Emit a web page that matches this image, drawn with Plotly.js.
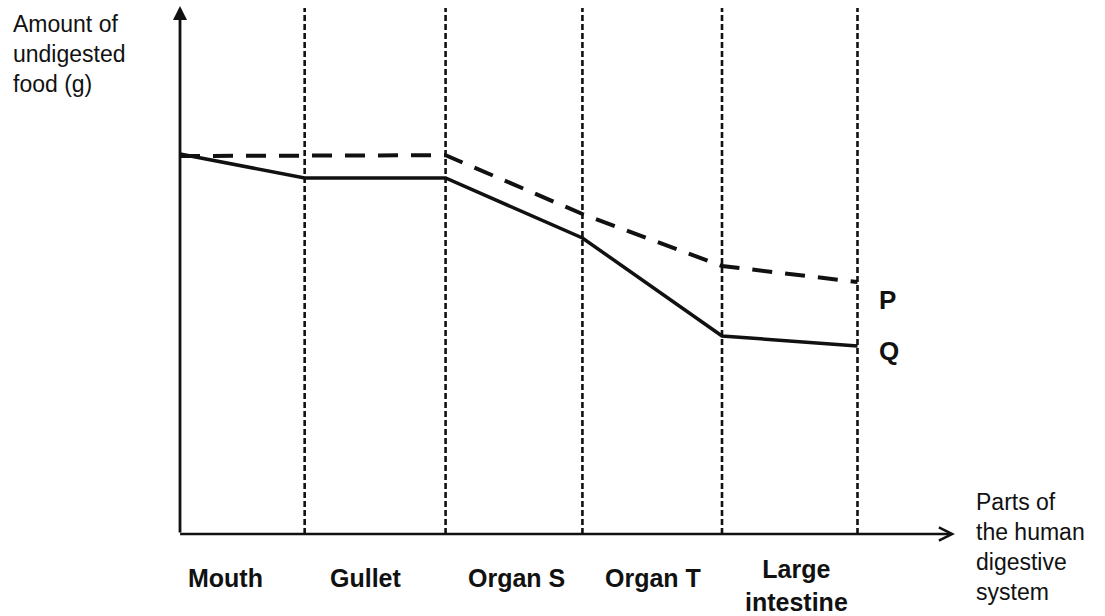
<!DOCTYPE html>
<html>
<head>
<meta charset="utf-8">
<script src="https://cdn.plot.ly/plotly-3.0.1.min.js"></script>
<style>html,body{margin:0;padding:0;background:#fff;}#chart{width:1105px;height:616px;}</style>
</head>
<body>
<div id="chart"></div>
<script>
// ---- data ----
const parts = ['Mouth', 'Gullet', 'Organ S', 'Organ T', 'Large<br>intestine'];
const boundaries = [0, 0.92, 1.96, 2.97, 4.0, 5.0];   // section edges along the x axis
const foodP = [9.45, 9.45, 9.47, 8.0, 6.7, 6.3];       // undigested food, curve P (g)
const foodQ = [9.5, 8.9, 8.9, 7.4, 4.95, 4.7];         // undigested food, curve Q (g)
const seriesNames = ['P', 'Q'];
const yTitleLines = ['Amount of', 'undigested', 'food (g)'];
const xTitleLines = ['Parts of', 'the human', 'digestive', 'system'];

// ---- layout helpers (pixel -> data) ----
const W = 1105, H = 616;
const X_UNIT = 135.5, X0PX = 180, Y_UNIT = 40, Y0PX = 534;
const dx = px => (px - X0PX) / X_UNIT;
const dy = px => (Y0PX - px) / Y_UNIT;
const FONT = 'Liberation Sans, Arial, sans-serif';
const INK = '#111';

const traces = [
  {x: boundaries, y: foodP, name: seriesNames[0], mode: 'lines', type: 'scatter',
   line: {color: INK, width: 4, dash: '20px,13px'}, hoverinfo: 'skip'},
  {x: boundaries, y: foodQ, name: seriesNames[1], mode: 'lines', type: 'scatter',
   line: {color: INK, width: 3.5}, hoverinfo: 'skip'}
];

const shapes = boundaries.slice(1).map(b => ({
  type: 'line', xref: 'x', yref: 'y', x0: b, x1: b, y0: 0, y1: dy(8),
  line: {color: INK, width: 2.6, dash: '6px,3px'}
}));

const annotations = [];
// axes with arrows
annotations.push({x: 0, y: dy(6), ax: 0, ay: 0, xref: 'x', yref: 'y', axref: 'x', ayref: 'y',
  text: '', showarrow: true, arrowhead: 2, arrowsize: 1.0, arrowwidth: 2.8, arrowcolor: INK, standoff: 0});
annotations.push({x: dx(955), y: 0, ax: dx(178.6), ay: 0, xref: 'x', yref: 'y', axref: 'x', ayref: 'y',
  text: '', showarrow: true, arrowhead: 5, arrowsize: 1.0, arrowwidth: 2.6, arrowcolor: INK, standoff: 0});

// category labels
const labelShift = [-17, -9, 2, 1, 7];
parts.forEach((p, i) => {
  const mid = (boundaries[i] + boundaries[i + 1]) / 2;
  const multi = p.indexOf('<br>') >= 0;
  annotations.push({x: mid, y: dy(multi ? 585 : 577.5), xref: 'x', yref: 'y', text: '<b>' + p + '</b>',
    showarrow: false, xanchor: 'center', yanchor: 'middle', xshift: labelShift[i],
    font: {family: FONT, size: 25, color: INK}});
});

// axis titles
annotations.push({x: dx(11), y: dy(54), xref: 'x', yref: 'y', text: yTitleLines.join('<br>'),
  showarrow: false, xanchor: 'left', yanchor: 'middle', align: 'left',
  font: {family: FONT, size: 23, color: INK}});
annotations.push({x: dx(974), y: dy(547), xref: 'x', yref: 'y', text: xTitleLines.join('<br>'),
  showarrow: false, xanchor: 'left', yanchor: 'middle', align: 'left',
  font: {family: FONT, size: 23, color: INK}});

// series labels
const seriesLabelY = [300, 351];
seriesNames.forEach((n, i) => {
  annotations.push({x: dx(877), y: dy(seriesLabelY[i]), xref: 'x', yref: 'y', text: '<b>' + n + '</b>',
    showarrow: false, xanchor: 'left', yanchor: 'middle', font: {family: FONT, size: 26, color: INK}});
});

const layout = {
  width: W, height: H, margin: {l: 0, r: 0, t: 0, b: 0, pad: 0},
  paper_bgcolor: '#fff', plot_bgcolor: '#fff', showlegend: false,
  xaxis: {range: [dx(0), dx(W)], visible: false, fixedrange: true},
  yaxis: {range: [dy(H), dy(0)], visible: false, fixedrange: true},
  shapes: shapes, annotations: annotations
};

Plotly.newPlot('chart', traces, layout, {staticPlot: true, displayModeBar: false});
</script>
</body>
</html>
